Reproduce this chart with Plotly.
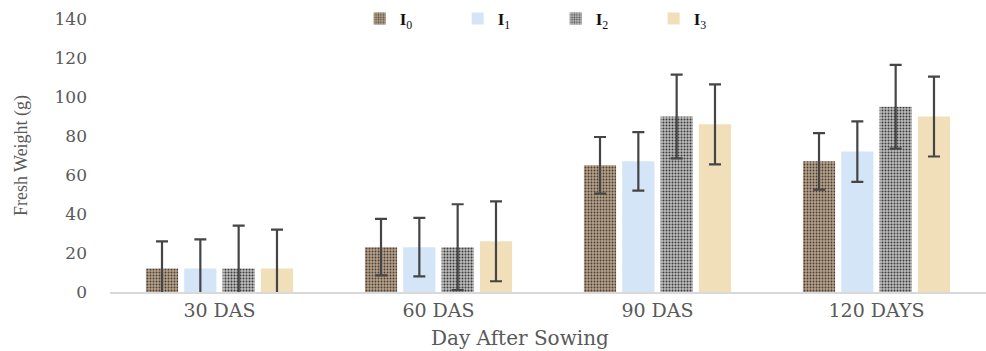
import plotly.graph_objects as go

categories = ["30 DAS", "60 DAS", "90 DAS", "120 DAYS"]
series_names = ["<b>I</b><sub>0</sub>", "<b>I</b><sub>1</sub>", "<b>I</b><sub>2</sub>", "<b>I</b><sub>3</sub>"]
i0_values = [12, 23, 65, 67]
i1_values = [12, 23, 67, 72]
i2_values = [12, 23, 90, 95]
i3_values = [12, 26, 86, 90]
i0_err = [14, 14.5, 14.5, 14.5]
i1_err = [15, 15, 15, 15.5]
i2_err = [22, 22, 21.5, 21.5]
i3_err = [20, 20.5, 20.5, 20.5]

values = [i0_values, i1_values, i2_values, i3_values]
errors = [i0_err, i1_err, i2_err, i3_err]

styles = [
    dict(color="#a8957f", pattern=dict(shape=".", bgcolor="#b3a18b", fgcolor="#4a3c30", size=3, solidity=0.3, fillmode="replace")),
    dict(color="#d3e5f7"),
    dict(color="#9c9c9c", pattern=dict(shape=".", bgcolor="#bdbdbd", fgcolor="#3b3b3b", size=3, solidity=0.35, fillmode="replace")),
    dict(color="#f1dfb9"),
]

fig = go.Figure()
for name, vals, errs, st in zip(series_names, values, errors, styles):
    fig.add_trace(go.Bar(
        x=categories, y=vals, name=name,
        marker=dict(line=dict(width=0), **st),
        error_y=dict(type="data", array=errs, visible=True, color="#454545", thickness=2.2, width=6),
    ))

fig.update_layout(
    width=986, height=351,
    margin=dict(l=110, r=0, t=19, b=59),
    paper_bgcolor="white", plot_bgcolor="white",
    barmode="group", bargap=0.3, bargroupgap=0.16,
    showlegend=True,
    legend=dict(orientation="h", x=0.285, y=1.0, xanchor="left", yanchor="middle",
                font=dict(family="Liberation Serif", size=17, color="#111111"),
                entrywidth=53, entrywidthmode="pixels", bgcolor="rgba(0,0,0,0)",
                itemclick=False),
    font=dict(family="DejaVu Serif", color="#595959"),
)
fig.update_xaxes(showgrid=False, showline=True, linecolor="#d9d9d9", linewidth=1.5,
                 ticks="", tickfont=dict(family="DejaVu Serif", size=19, color="#595959"))
fig.update_yaxes(range=[0, 140], dtick=20, showgrid=False, showline=False, zeroline=False,
                 ticks="", tickfont=dict(family="DejaVu Serif", size=17, color="#595959"),
                 ticklabelstandoff=22,
                 title=dict(text="Fresh Weight (g)", font=dict(family="Liberation Serif", size=18, color="#595959"), standoff=22))
fig.add_annotation(text="Day After Sowing", xref="paper", yref="paper", x=(520 - 110) / 876, y=-0.168,
                   xanchor="center", yanchor="middle", showarrow=False,
                   font=dict(family="DejaVu Serif", size=20, color="#595959"))

fig.write_html("out.html")
